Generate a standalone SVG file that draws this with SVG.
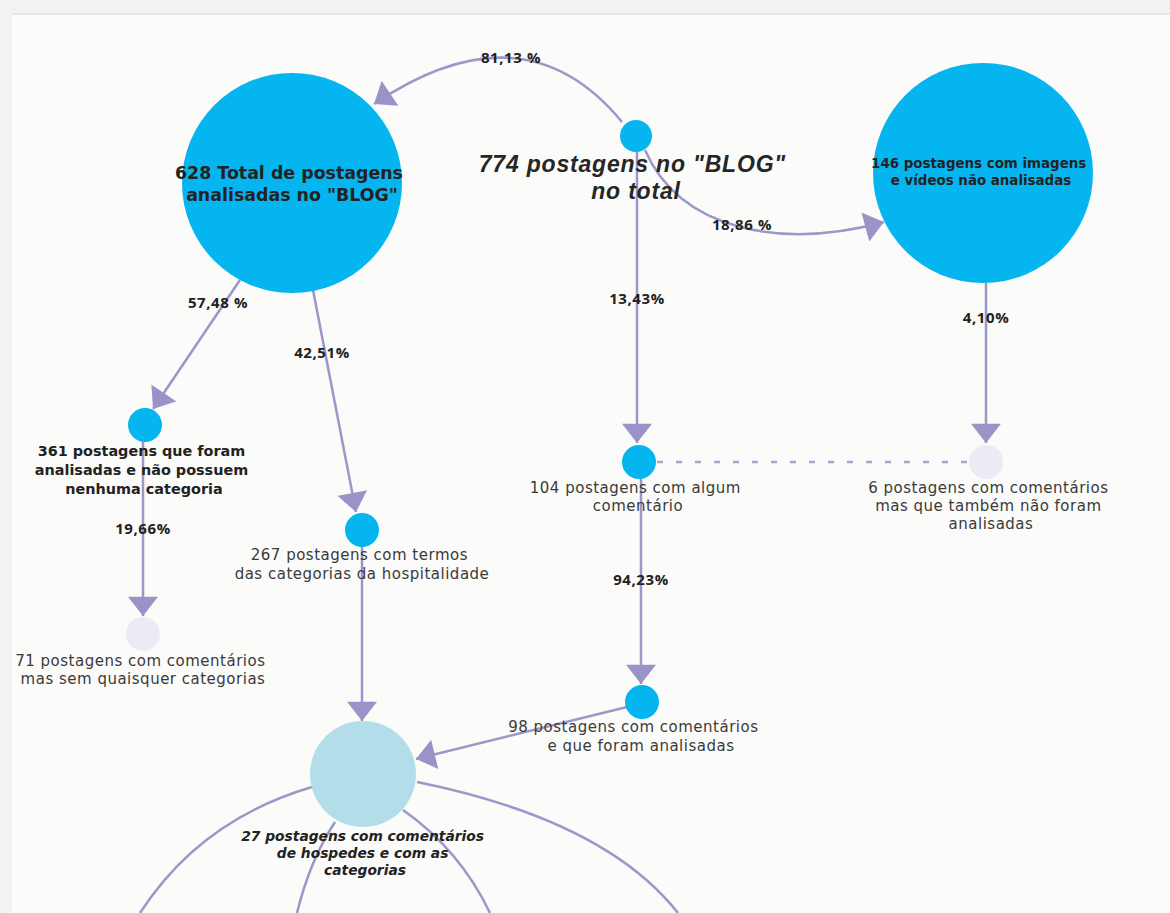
<svg xmlns="http://www.w3.org/2000/svg" width="1170" height="913" viewBox="0 0 1170 913">
  <style>
    .edge { fill: none; stroke: #9c97c9; stroke-width: 2.5; }
    .dash { fill: none; stroke: #a7a3d0; stroke-width: 2.5; stroke-dasharray: 6 13; }
    .blue { fill: #05b5f0; }
    .pale { fill: #ecebf4; }
    .light { fill: #b3dde9; }
    .lbl { font-family: "DejaVu Sans", "Liberation Sans", sans-serif; font-size: 15px; fill: #3a3a3a; text-anchor: middle; letter-spacing: 0.5px; }
    .bold { font-family: "DejaVu Sans", "Liberation Sans", sans-serif; font-weight: 700; fill: #222; text-anchor: middle; }
    .pct { font-family: "Open Sans", "Liberation Sans", sans-serif; font-weight: 700; font-size: 15px; fill: #222; text-anchor: middle; letter-spacing: 0.6px; }
  </style>
  <defs>
    <marker id="arrow" markerUnits="userSpaceOnUse" markerWidth="20" markerHeight="30" viewBox="0 0 18 28" refX="18" refY="14" orient="auto">
      <path d="M0,0 L18,14 L0,28 Z" fill="#9a93c7"/>
    </marker>
  </defs>

  <!-- page frame -->
  <rect x="0" y="0" width="1170" height="913" fill="#f2f2f2"/>
  <rect x="12" y="15" width="1158" height="898" fill="#fbfbf9"/>
  <line x1="12" y1="14" x2="1170" y2="14" stroke="#e6e6e6" stroke-width="2"/>

  <!-- connectors -->
  <g id="connectors">
    <path class="edge" d="M622 122 Q524 3 374 104" marker-end="url(#arrow)"/>
    <path class="edge" d="M645 150 C680 230 780 250 884 222" marker-end="url(#arrow)"/>
    <path class="edge" d="M637 151 L637 443" marker-end="url(#arrow)"/>
    <path class="edge" d="M986 283 L986 443" marker-end="url(#arrow)"/>
    <path class="dash" d="M657 462 L968 462"/>
    <path class="edge" d="M240 280 L153 409" marker-end="url(#arrow)"/>
    <path class="edge" d="M313 290 L356 512" marker-end="url(#arrow)"/>
    <path class="edge" d="M143 442 L143 616" marker-end="url(#arrow)"/>
    <path class="edge" d="M362 546 L362 721" marker-end="url(#arrow)"/>
    <path class="edge" d="M641 478 L641 684" marker-end="url(#arrow)"/>
    <path class="edge" d="M627 707 L416 759" marker-end="url(#arrow)"/>
    <path class="edge" d="M312 787 Q200 820 140 913"/>
    <path class="edge" d="M335 822 Q310 860 297 913"/>
    <path class="edge" d="M403 810 Q460 850 490 913"/>
    <path class="edge" d="M417 782 Q605 820 678 913"/>
    <text class="pct" x="511" y="63">81,13 %</text>
    <text class="pct" x="742" y="230">18,86 %</text>
    <text class="pct" x="637" y="304">13,43%</text>
    <text class="pct" x="986" y="323">4,10%</text>
    <text class="pct" x="218" y="308">57,48 %</text>
    <text class="pct" x="322" y="358">42,51%</text>
    <text class="pct" x="143" y="534">19,66%</text>
    <text class="pct" x="641" y="585">94,23%</text>
  </g>

  <!-- nodes -->
  <g id="node-total">
    <circle class="blue" cx="636" cy="136" r="16"/>
    <text font-family="'Liberation Sans', Arial, sans-serif" font-size="23" font-style="italic" font-weight="700" fill="#262626" text-anchor="middle" letter-spacing="0.8">
      <tspan x="636" y="172">774 postagens no "BLOG"</tspan>
      <tspan x="636" y="199">no total</tspan>
    </text>
  </g>

  <g id="node-analisadas">
    <circle class="blue" cx="292" cy="183" r="110"/>
    <text class="bold" font-size="17.4" fill="#1d2b3a">
      <tspan x="292" y="179">628 Total de postagens</tspan>
      <tspan x="292" y="201">analisadas no "BLOG"</tspan>
    </text>
  </g>

  <g id="node-imagens">
    <circle class="blue" cx="983" cy="173" r="110"/>
    <text class="bold" font-size="13.4" fill="#1d2b3a">
      <tspan x="981" y="168">146 postagens com imagens</tspan>
      <tspan x="981" y="185">e vídeos não analisadas</tspan>
    </text>
  </g>

  <g id="node-361">
    <circle class="blue" cx="145" cy="425" r="17"/>
    <text class="bold" font-size="14.4">
      <tspan x="144" y="456">361 postagens que foram</tspan>
      <tspan x="144" y="475">analisadas e não possuem</tspan>
      <tspan x="144" y="494">nenhuma categoria</tspan>
    </text>
  </g>

  <g id="node-267">
    <circle class="blue" cx="362" cy="530" r="17"/>
    <text class="lbl">
      <tspan x="362" y="560">267 postagens com termos</tspan>
      <tspan x="362" y="579">das categorias da hospitalidade</tspan>
    </text>
  </g>

  <g id="node-104">
    <circle class="blue" cx="639" cy="462" r="17"/>
    <text class="lbl">
      <tspan x="638" y="493">104 postagens com algum</tspan>
      <tspan x="638" y="511">comentário</tspan>
    </text>
  </g>

  <g id="node-6">
    <circle class="pale" cx="986" cy="462" r="17"/>
    <text class="lbl">
      <tspan x="991" y="493">6 postagens com comentários</tspan>
      <tspan x="991" y="511">mas que também não foram</tspan>
      <tspan x="991" y="529">analisadas</tspan>
    </text>
  </g>

  <g id="node-71">
    <circle class="pale" cx="143" cy="634" r="17"/>
    <text class="lbl">
      <tspan x="143" y="666">71 postagens com comentários</tspan>
      <tspan x="143" y="684">mas sem quaisquer categorias</tspan>
    </text>
  </g>

  <g id="node-98">
    <circle class="blue" cx="642" cy="702" r="17"/>
    <text class="lbl">
      <tspan x="636" y="732">98 postagens com comentários</tspan>
      <tspan x="641" y="751">e que foram analisadas</tspan>
    </text>
  </g>

  <g id="node-27">
    <circle class="light" cx="363" cy="774" r="53"/>
    <text class="bold" font-size="13.8" font-style="italic" fill="#222">
      <tspan x="365" y="841">27 postagens com comentários</tspan>
      <tspan x="365" y="858">de hospedes e com as</tspan>
      <tspan x="365" y="875">categorias</tspan>
    </text>
  </g>
</svg>
